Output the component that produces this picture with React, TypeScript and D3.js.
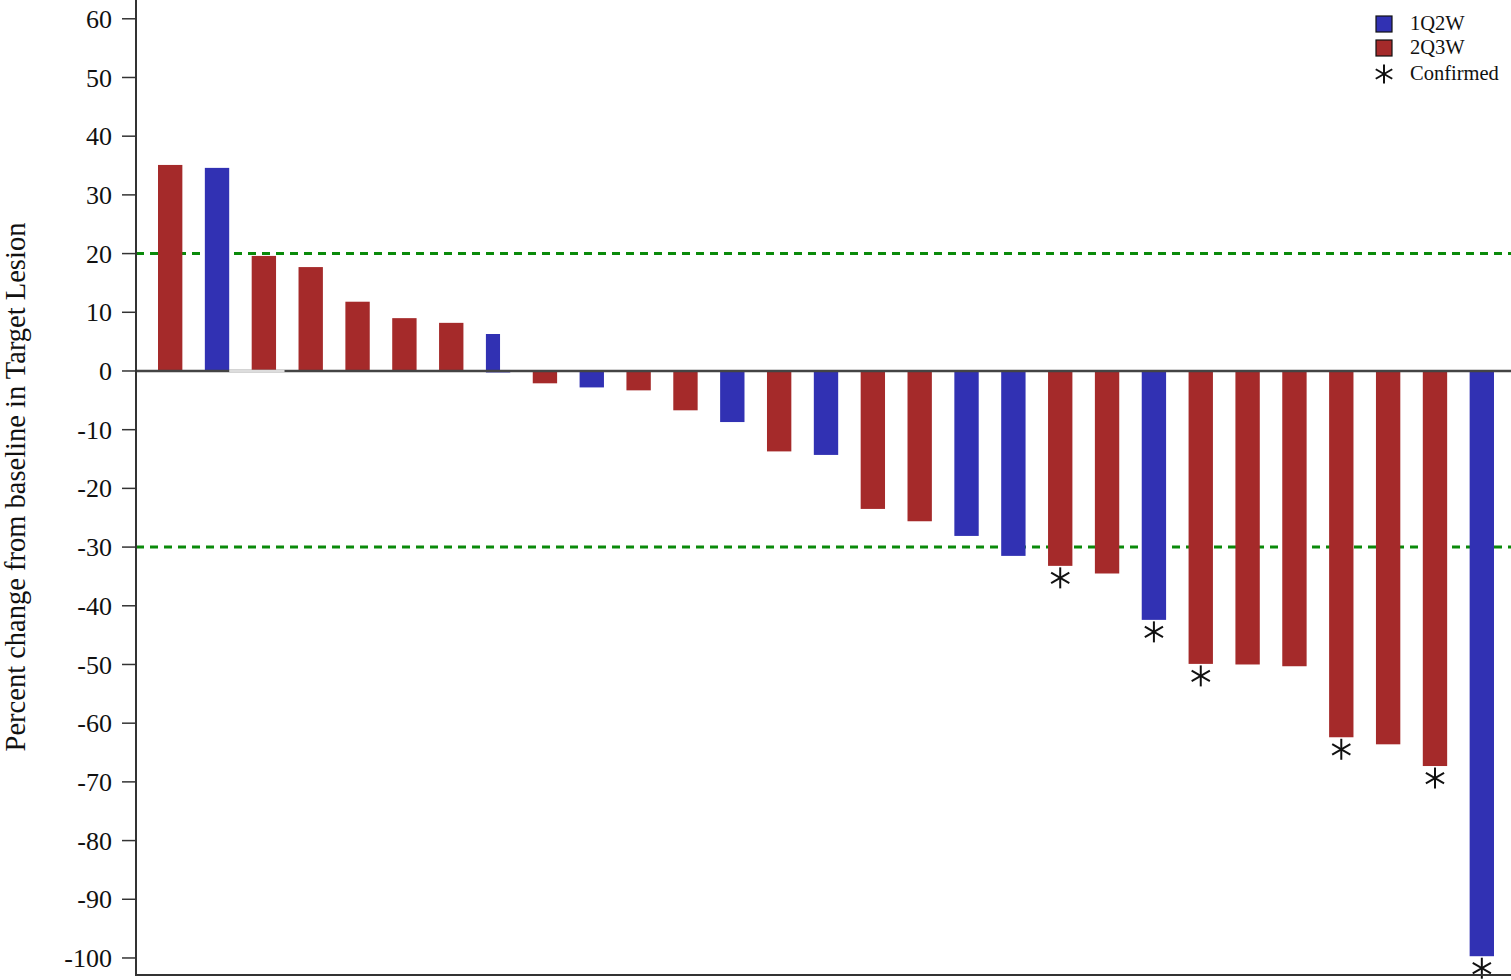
import React from "react";
import * as d3 from "d3";

const patients = d3.range(1, 30).map((i) => `P${i}`);
const values = [35.1, 34.6, 19.6, 17.7, 11.8, 9.0, 8.2, 6.3, -2.1, -2.8, -3.3, -6.7, -8.7, -13.7, -14.3, -23.5, -25.6, -28.1, -31.5, -33.2, -34.5, -42.4, -49.9, -50.0, -50.3, -62.4, -63.6, -67.3, -99.7];
const groups = ["2Q3W", "1Q2W", "2Q3W", "2Q3W", "2Q3W", "2Q3W", "2Q3W", "1Q2W", "2Q3W", "1Q2W", "2Q3W", "2Q3W", "1Q2W", "2Q3W", "1Q2W", "2Q3W", "2Q3W", "1Q2W", "1Q2W", "2Q3W", "2Q3W", "1Q2W", "2Q3W", "2Q3W", "2Q3W", "2Q3W", "2Q3W", "2Q3W", "1Q2W"];
const confirmed = [false, false, false, false, false, false, false, false, false, false, false, false, false, false, false, false, false, false, false, true, false, true, true, false, false, true, false, true, true];
const yTicks = [60, 50, 40, 30, 20, 10, 0, -10, -20, -30, -40, -50, -60, -70, -80, -90, -100];
const thresholds = [20, -30];
const legendItems = ["1Q2W", "2Q3W"];

const W = 1511;
const H = 980;
const axisX = 136;
const colors: Record<string, string> = { "1Q2W": "#3131b3", "2Q3W": "#a52a2a" };
const font = "'Liberation Serif', 'Times New Roman', serif";

function Asterisk({ cx, cy, r }: { cx: number; cy: number; r: number }) {
  const d = r * Math.cos(Math.PI / 6);
  const e = r * Math.sin(Math.PI / 6);
  return (
    <g stroke="#111" strokeWidth={2}>
      <line x1={cx} y1={cy - r} x2={cx} y2={cy + r} />
      <line x1={cx - d} y1={cy - e} x2={cx + d} y2={cy + e} />
      <line x1={cx - d} y1={cy + e} x2={cx + d} y2={cy - e} />
    </g>
  );
}

export default function App() {
  const y = d3.scaleLinear().domain([-102.9, 63.2]).range([975, 0]);
  const x = d3.scaleBand().domain(patients).range([158, 1494]).paddingInner(0.48).paddingOuter(0.0);
  const bw = x.bandwidth();
  const y0 = y(0);

  return (
    <svg width={W} height={H} style={{ position: "absolute", left: 0, top: 0, background: "#fff" }}>
      {thresholds.map((t) => (
        <line key={t} x1={axisX} x2={W} y1={y(t)} y2={y(t)} stroke="#0a8a0a" strokeWidth={3} strokeDasharray="8 6" />
      ))}
      {values.map((v, i) => {
        const px = x(patients[i])!;
        const top = Math.min(y(v), y0);
        const h = Math.abs(y(v) - y0);
        if (i === 7) {
          return (
            <g key={i}>
              <rect x={px} y={top} width={bw * 0.58} height={h} fill={colors[groups[i]]} />
              <rect x={px} y={y0 - 1} width={bw} height={2.5} fill={colors[groups[i]]} />
            </g>
          );
        }
        return <rect key={i} x={px} y={top} width={bw} height={h} fill={colors[groups[i]]} />;
      })}
      <line x1={axisX} x2={W} y1={y0} y2={y0} stroke="#444" strokeWidth={2.5} />
      <line x1={x(patients[1])! + bw} x2={x(patients[3])! - 14} y1={y0} y2={y0} stroke="#ddd" strokeWidth={2.5} />
      {values.map((v, i) =>
        confirmed[i] ? <Asterisk key={i} cx={x(patients[i])! + bw / 2} cy={y(v) + 12} r={10.5} /> : null
      )}
      <line x1={axisX} x2={axisX} y1={0} y2={976} stroke="#333" strokeWidth={2} />
      <line x1={axisX} x2={W} y1={975} y2={975} stroke="#333" strokeWidth={2} />
      {yTicks.map((t) => (
        <g key={t}>
          <line x1={axisX - 14} x2={axisX} y1={y(t)} y2={y(t)} stroke="#333" strokeWidth={1.5} />
          <text x={112} y={y(t)} dy="0.35em" textAnchor="end" fontFamily={font} fontSize={26} fill="#111">
            {t}
          </text>
        </g>
      ))}
      <text
        transform={`translate(25, ${487}) rotate(-90)`}
        textAnchor="middle"
        fontFamily={font}
        fontSize={28.5}
        fill="#111"
      >
        Percent change from baseline in Target Lesion
      </text>
      {legendItems.map((g, i) => (
        <g key={g}>
          <rect x={1376} y={16 + i * 24} width={16} height={16} fill={colors[g]} stroke="#111" strokeWidth={1.2} />
          <text x={1410} y={30 + i * 24} fontFamily={font} fontSize={20.5} fill="#111">
            {g}
          </text>
        </g>
      ))}
      <Asterisk cx={1384} cy={74} r={9.5} />
      <text x={1410} y={80} fontFamily={font} fontSize={20.5} fill="#111">
        Confirmed
      </text>
    </svg>
  );
}
